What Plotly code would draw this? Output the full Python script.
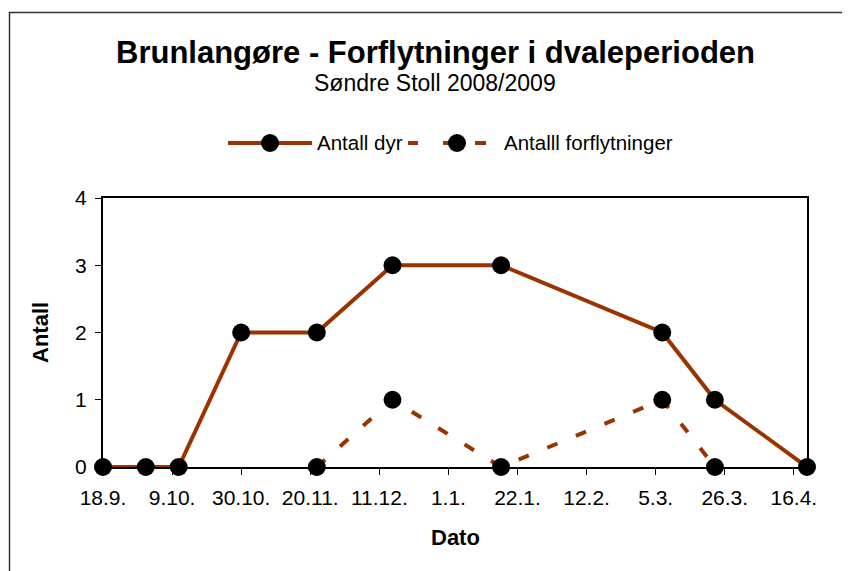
import plotly.graph_objects as go

# Data
dyr_dates = ["2008-09-18", "2008-10-01", "2008-10-11", "2008-10-30", "2008-11-22",
             "2008-12-15", "2009-01-17", "2009-03-07", "2009-03-23", "2009-04-20"]
dyr_values = [0, 0, 0, 2, 2, 3, 3, 2, 1, 0]

forfl_dates = ["2008-11-22", "2008-12-15", "2009-01-17", "2009-03-07", "2009-03-23"]
forfl_values = [0, 1, 0, 1, 0]

tick_dates = ["2008-09-18", "2008-10-09", "2008-10-30", "2008-11-20", "2008-12-11",
              "2009-01-01", "2009-01-22", "2009-02-12", "2009-03-05", "2009-03-26", "2009-04-16"]
tick_labels = ["18.9.", "9.10.", "30.10.", "20.11.", "11.12.", "1.1.",
               "22.1.", "12.2.", "5.3.", "26.3.", "16.4."]
y_ticks = [0, 1, 2, 3, 4]

title = "Brunlangøre - Forflytninger i dvaleperioden"
subtitle = "Søndre Stoll 2008/2009"
series_names = ["Antall dyr", "Antalll forflytninger"]

LINE = "#993300"
FONT = "Liberation Sans, Arial, sans-serif"

W, H = 850, 571
OFF = 8  # page body margin offset
# plot area in screen pixels: x 103..807, y 198..467
PL, PR, PT, PB = 103, 807, 198, 467
PW, PH = PR - PL, PB - PT
ML, MT = PL - OFF, PT - OFF
MR, MB = W - ML - PW, H - MT - PH


def px(x):
    return (x - PL) / PW


def py(y):
    return (PB - y) / PH


fig = go.Figure()
fig.add_trace(go.Scatter(
    x=dyr_dates, y=dyr_values, mode="lines+markers", name=series_names[0],
    line=dict(color=LINE, width=4),
    marker=dict(color="black", size=18), cliponaxis=False, showlegend=False))
fig.add_trace(go.Scatter(
    x=forfl_dates, y=forfl_values, mode="lines+markers", name=series_names[1],
    line=dict(color=LINE, width=4, dash="11px,20px"),
    marker=dict(color="black", size=18), cliponaxis=False, showlegend=False))

shapes = []
# outer chart border
shapes.append(dict(type="rect", xref="paper", yref="paper",
                   x0=px(9.5), x1=px(900), y0=py(640), y1=py(12.5),
                   line=dict(color="#333333", width=1.5), layer="below"))
# manual legend
ly = py(143)
shapes.append(dict(type="line", xref="paper", yref="paper", x0=px(228), x1=px(312),
                   y0=ly, y1=ly, line=dict(color=LINE, width=4)))
for a, b in [(408, 418), (443, 452), (475, 486)]:
    shapes.append(dict(type="line", xref="paper", yref="paper", x0=px(a), x1=px(b),
                       y0=ly, y1=ly, line=dict(color=LINE, width=4)))
r = 9
for cx in [270, 457]:
    shapes.append(dict(type="circle", xref="paper", yref="paper",
                       x0=px(cx - r), x1=px(cx + r), y0=py(143 + r), y1=py(143 - r),
                       fillcolor="black", line=dict(color="black", width=0)))

annotations = [
    dict(text="<b>%s</b>" % title, x=px(435), y=py(52), xref="paper", yref="paper",
         showarrow=False, xanchor="center", yanchor="middle",
         font=dict(size=31, color="black", family=FONT)),
    dict(text=subtitle, x=px(435), y=py(83), xref="paper", yref="paper",
         showarrow=False, xanchor="center", yanchor="middle",
         font=dict(size=23, color="black", family=FONT)),
    dict(text=series_names[0], x=px(315), y=ly, xref="paper", yref="paper",
         showarrow=False, xanchor="left", yanchor="middle",
         font=dict(size=20.5, color="black", family=FONT)),
    dict(text=series_names[1], x=px(502), y=ly, xref="paper", yref="paper",
         showarrow=False, xanchor="left", yanchor="middle",
         font=dict(size=20.5, color="black", family=FONT)),
    dict(text="<b>Dato</b>", x=0.5, y=py(537), xref="paper", yref="paper",
         showarrow=False, xanchor="center", yanchor="middle",
         font=dict(size=22, color="black", family=FONT)),
    dict(text="<b>Antall</b>", x=px(40), y=py(333), xref="paper", yref="paper",
         showarrow=False, xanchor="center", yanchor="middle", textangle=-90,
         font=dict(size=22, color="black", family=FONT)),
]

fig.update_layout(
    width=W, height=H,
    margin=dict(l=ML, r=MR, t=MT, b=MB, pad=0),
    paper_bgcolor="white", plot_bgcolor="white",
    font=dict(family=FONT, size=21, color="black"),
    shapes=shapes, annotations=annotations,
    showlegend=False,
)
fig.update_xaxes(
    type="date", range=[dyr_dates[0], dyr_dates[-1]],
    tickmode="array", tickvals=tick_dates, ticktext=tick_labels,
    ticks="outside", ticklen=6, tickwidth=1, tickcolor="black",
    showline=True, linecolor="black", linewidth=2, mirror=True,
    showgrid=False, zeroline=False, ticklabelstandoff=5,
    tickfont=dict(size=21, family=FONT, color="black"))
fig.update_yaxes(
    range=[0, 4], tickmode="array", tickvals=y_ticks,
    ticks="outside", ticklen=6, tickwidth=1, tickcolor="black",
    showline=True, linecolor="black", linewidth=2, mirror=True,
    showgrid=False, zeroline=False, ticklabelstandoff=4,
    tickfont=dict(size=21, family=FONT, color="black"))

fig.write_html("out.html")
